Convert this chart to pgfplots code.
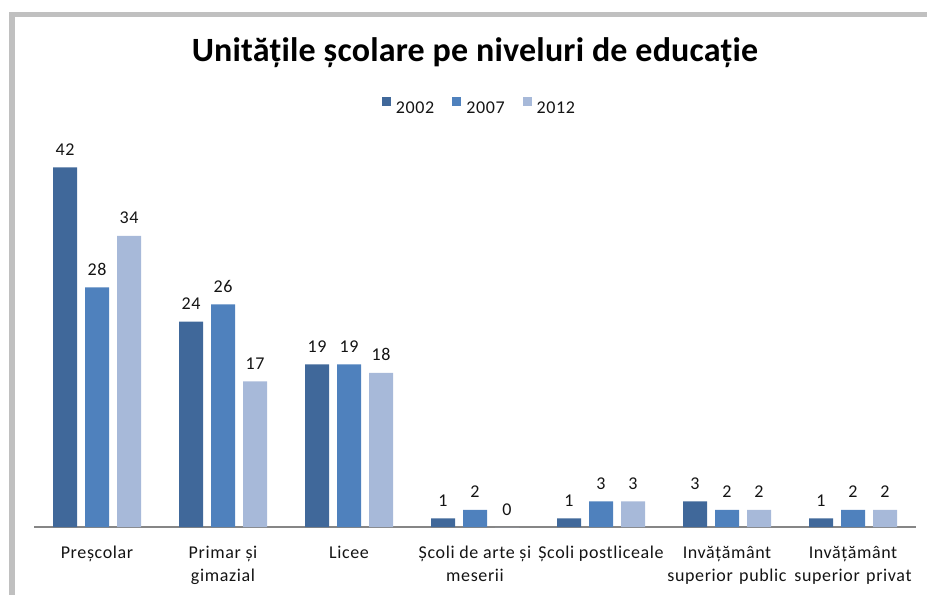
\documentclass[border=0pt]{standalone}
\usepackage{fontspec}
\setmainfont{Carlito}[LetterSpace=3.5]
\newfontfamily\titlefont{Carlito}[LetterSpace=0.6]
\usepackage{pgfplots}
\usepackage{pgfplotstable}
\pgfplotsset{compat=1.18}
\definecolor{cA}{RGB}{64,104,154}
\definecolor{cB}{RGB}{79,129,189}
\definecolor{cC}{RGB}{167,185,217}
\definecolor{frame}{RGB}{192,192,192}
\definecolor{baseln}{RGB}{134,134,134}
\definecolor{txt}{RGB}{20,20,20}

\pgfplotstableread{
x a b c
0 42 28 34
1 24 26 17
2 19 19 18
3 1 2 0
4 1 3 3
5 3 2 2
6 1 2 2
}\data

\begin{document}
\begin{tikzpicture}[x=1pt,y=1pt]
\useasboundingbox (0,0) rectangle (927,595);
\fill[frame] (9,0) rectangle (15,583);
\fill[frame] (9,578) rectangle (927,583);
\node[anchor=base, inner sep=0pt, font=\titlefont\fontsize{34}{40}\selectfont\bfseries] at (475,533) {Unitățile școlare pe niveluri de educație};
\begin{axis}[
  at={(34pt,68pt)}, anchor=south west,
  scale only axis, width=882pt, height=385.2pt,
  xmin=-0.5, xmax=6.5, ymin=0, ymax=45,
  enlarge x limits=false, clip=false,
  hide y axis,
  axis x line*=bottom,
  x axis line style={draw=baseln, line width=1.2pt},
  xtick={0,...,6},
  major tick length=0pt,
  xticklabels={
    {\strut Preșcolar},
    {\strut Primar și\\gimazial},
    {\strut Licee},
    {\strut Școli de arte și\\meserii},
    {\strut Școli postliceale},
    {\strut Invățământ\\superior\hspace{0.35em}public},
    {\strut Invățământ\\superior\hspace{0.35em}privat}},
  xticklabel style={anchor=north, align=center, inner sep=0pt, yshift=-14.6pt,
    font=\fontsize{18}{23.4}\selectfont, text=txt},
  ybar=8pt, bar width=24pt,
  /pgf/number format/assume math mode=true,
  nodes near coords,
  nodes near coords style={anchor=base, inner sep=0pt, yshift=12pt, font=\fontsize{18}{22}\selectfont, text=txt},
  legend columns=-1,
  legend style={draw=none, at={(0.504,1.093)}, anchor=center,
    nodes={inner sep=0pt, font=\fontsize{18}{22}\selectfont, text=txt},
    /tikz/every odd column/.append style={column sep=5pt},
    /tikz/every even column/.append style={column sep=18pt}},
  legend image code/.code={\fill[#1] (0pt,2.7pt) rectangle (9pt,11.7pt);},
]
\addplot[fill=cA, draw=none] table[x=x, y=a] {\data};
\addplot[fill=cB, draw=none] table[x=x, y=b] {\data};
\addplot[fill=cC, draw=none] table[x=x, y=c] {\data};
\legend{2002,2007,2012}
\end{axis}
\end{tikzpicture}
\end{document}
